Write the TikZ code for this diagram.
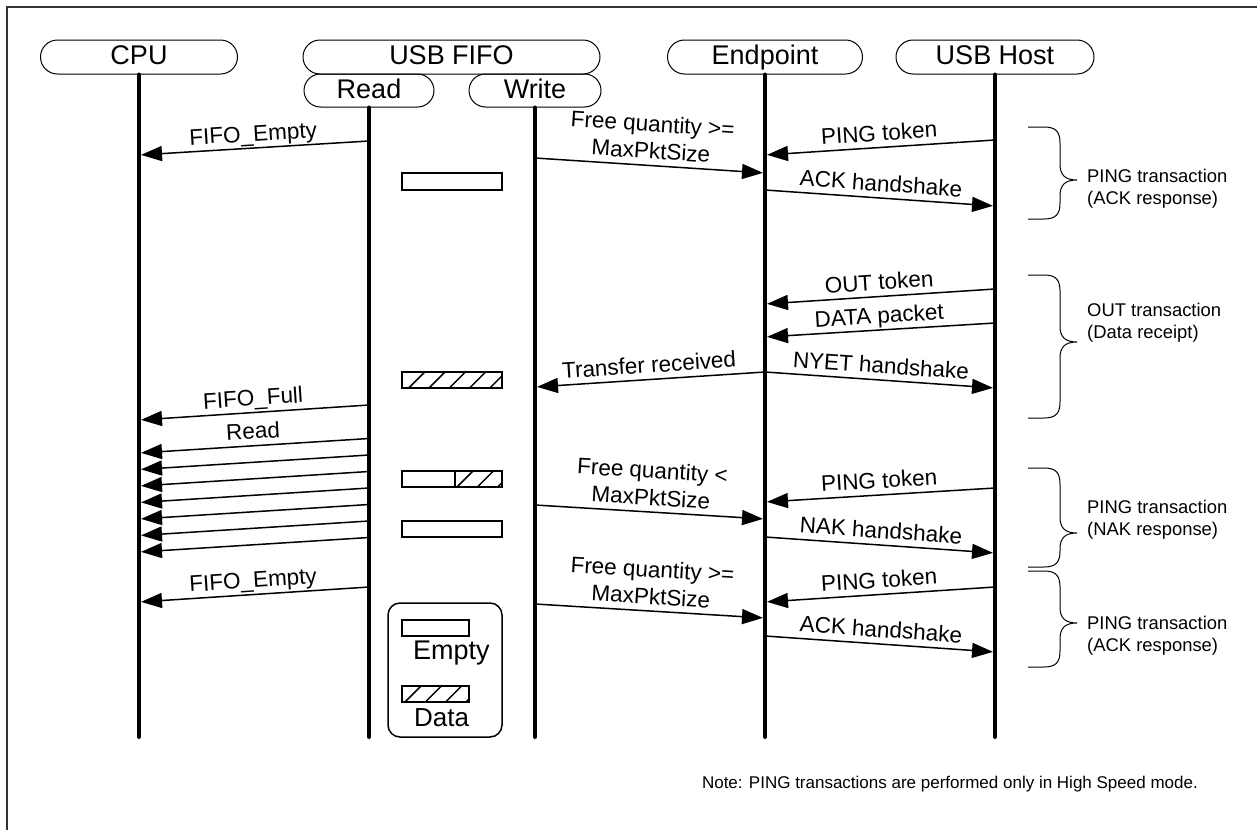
\documentclass[tikz,border=0pt]{standalone}
\usepackage{fontspec}
\setmainfont{Liberation Sans}
\usetikzlibrary{arrows.meta,shapes.misc}
\newcommand\mybrace[3]{%
  \draw[bracestyle] (1028,#1) -- (1044,#1) .. controls (1056,#1) and (1060,#1+5) .. (1060,#1+16)
    -- (1060,#2-16) .. controls (1060,#2-5) and (1065,#2) .. (1077,#2)
    .. controls (1065,#2) and (1060,#2+5) .. (1060,#2+16)
    -- (1060,#3-16) .. controls (1060,#3-5) and (1056,#3) .. (1044,#3) -- (1028,#3);}
\newcommand\hatchfill[5]{%
  \begin{scope}
    \clip (#1,#2) rectangle (#3,#4);
    \foreach \k in {0,...,6}{\draw[hatchline] (#5+20.3*\k,#4+2) -- ++(21,-21);}
  \end{scope}}
\begin{document}
\begin{tikzpicture}[x=1pt,y=-1pt,
  pill/.style={rounded rectangle, draw, line width=1pt, inner sep=0pt,
    minimum height=34pt, text height=20pt, text depth=5pt,
    font=\fontsize{27}{30}\selectfont},
  life/.style={line width=4pt, line cap=round},
  msg/.style={line width=1.5pt, shorten >=2pt, -{Triangle[length=21pt,width=15pt]}},
  lbl/.style={font=\fontsize{22.5}{27}\selectfont, sloped, above, inner sep=1pt,
    text depth=5pt, align=center},
  bracestyle/.style={line width=1pt},
  blabel/.style={font=\fontsize{18.4}{22}\selectfont, anchor=west, align=left, inner sep=0pt},
  fifobox/.style={line width=1.5pt},
  hatchline/.style={line width=1.5pt},
  legtext/.style={anchor=west, inner sep=0pt},
]
\useasboundingbox (0,0) rectangle (1257,830);
% frame
\draw[line width=1.5pt, black!80] (7,830) -- (7,7) -- (1257,7);

% headers
\node[pill, minimum width=197pt] (cpu) at (139,57) {CPU};
\node[pill, minimum width=297pt] (fifo) at (451.5,57) {USB FIFO};
\node[pill, minimum width=130pt, minimum height=33pt] (read) at (369,90.5) {Read};
\node[pill, minimum width=132pt, minimum height=33pt] (write) at (535,90.5) {Write};
\node[pill, minimum width=195pt] (ep) at (765,57) {Endpoint};
\node[pill, minimum width=198pt] (host) at (995,57) {USB Host};

% lifeline ends
\coordinate (cpuE) at (cpu.south |- 0,737);
\coordinate (readE) at (read.south |- 0,737);
\coordinate (writeE) at (write.south |- 0,737);
\coordinate (epE) at (ep.south |- 0,737);
\coordinate (hostE) at (host.south |- 0,737);
\draw[life] (cpu.south) -- (cpuE);
\draw[life] (read.south) -- (readE);
\draw[life] (write.south) -- (writeE);
\draw[life] (ep.south) -- (epE);
\draw[life] (host.south) -- (hostE);

% messages
\draw[msg] (read |- 0,141) -- node[lbl]{FIFO\_Empty} (cpu |- 0,155);
\draw[msg] (write |- 0,158) -- node[lbl]{Free quantity >=\\MaxPktSize} (ep |- 0,173);
\draw[msg] (host |- 0,140) -- node[lbl]{PING token} (ep |- 0,155);
\draw[msg] (ep |- 0,190) -- node[lbl]{ACK handshake} (host |- 0,206);

\draw[msg] (host |- 0,289) -- node[lbl]{OUT token} (ep |- 0,304);
\draw[msg] (host |- 0,323) -- node[lbl]{DATA packet} (ep |- 0,337);
\draw[msg] (ep |- 0,372) -- node[lbl]{Transfer received} (write |- 0,387);
\draw[msg] (ep |- 0,372) -- node[lbl]{NYET handshake} (host |- 0,388);

\draw[msg] (read |- 0,405) -- node[lbl]{FIFO\_Full} (cpu |- 0,420);
\draw[msg] (read |- 0,438.5) -- node[lbl]{Read} (cpu |- 0,453);
\foreach \k in {1,...,6}{
  \draw[msg] (read |- 0,438.5+16.5*\k) -- (cpu |- 0,453+16.5*\k);
}
\draw[msg] (read |- 0,587) -- node[lbl]{FIFO\_Empty} (cpu |- 0,602);

\draw[msg] (write |- 0,505) -- node[lbl]{Free quantity <\\MaxPktSize} (ep |- 0,519);
\draw[msg] (host |- 0,488) -- node[lbl]{PING token} (ep |- 0,502);
\draw[msg] (ep |- 0,537) -- node[lbl]{NAK handshake} (host |- 0,553);

\draw[msg] (write |- 0,604) -- node[lbl]{Free quantity >=\\MaxPktSize} (ep |- 0,618);
\draw[msg] (host |- 0,587) -- node[lbl]{PING token} (ep |- 0,602);
\draw[msg] (ep |- 0,636) -- node[lbl]{ACK handshake} (host |- 0,652);

% FIFO state boxes
\draw[fifobox] (402,173) rectangle (502,190);
\hatchfill{402}{372}{502}{388}{406.7}
\draw[fifobox] (402,372) rectangle (502,388);
\hatchfill{455}{471}{502}{487}{455}
\draw[fifobox] (402,471) rectangle (502,487);
\draw[fifobox] (455,471) -- (455,487);
\draw[fifobox] (402,521) rectangle (502,537);

% legend
\node[draw, rounded corners=12pt, line width=1.5pt, minimum width=114pt,
  minimum height=134pt, inner sep=0pt] (legend) at (445,670) {};
\draw[fifobox] (402,620) rectangle (469,636);
\node[legtext, font=\fontsize{27}{30}\selectfont] (lempty) at (413,653) {Empty};
\hatchfill{402}{686}{469}{702}{403}
\draw[fifobox] (402,686) rectangle (469,702);
\node[legtext, font=\fontsize{26}{30}\selectfont] (ldata) at (414,718) {Data};

% braces
\mybrace{127}{180}{219}
\node[blabel] (b1) at (1087,188.5) {PING transaction\\(ACK response)};
\mybrace{275}{342}{418}
\node[blabel] (b2) at (1087,322.5) {OUT transaction\\(Data receipt)};
\mybrace{468}{533}{567}
\node[blabel] (b3) at (1087,519.5) {PING transaction\\(NAK response)};
\mybrace{571}{623}{667}
\node[blabel] (b4) at (1087,636) {PING transaction\\(ACK response)};

% note
\node[anchor=east, inner sep=0pt, font=\fontsize{17}{20}\selectfont] (note) at (1198,784)
  {Note: PING transactions are performed only in High Speed mode.};
\end{tikzpicture}
\end{document}
